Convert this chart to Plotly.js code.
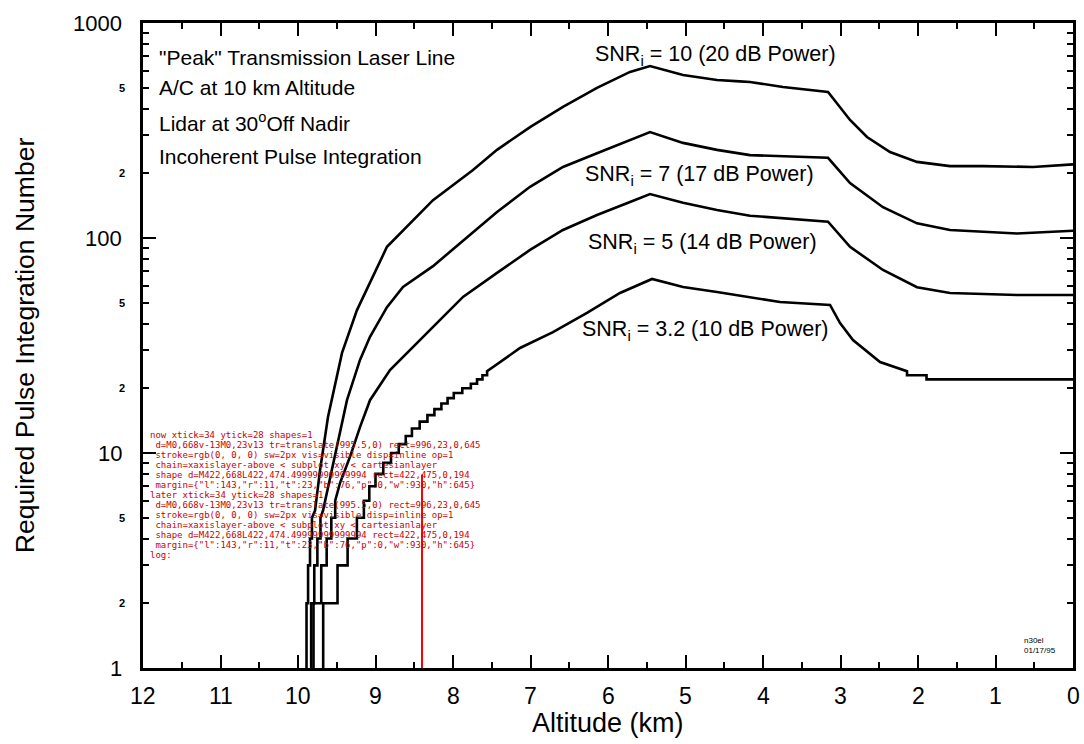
<!DOCTYPE html>
<html>
<head>
<meta charset="utf-8">
<script>
  // collect any console output / errors so they can be shown on the page
  window.__log = [];
  ['log', 'warn', 'error', 'trace', 'info'].forEach(k => {
    const orig = console[k];
    console[k] = function () { window.__log.push(k + ': ' + Array.from(arguments).map(String).join(' ').slice(0, 140)); if (orig) orig.apply(console, arguments); };
  });
  window.addEventListener('error', e => window.__log.push('onerror: ' + e.message));
  window.addEventListener('unhandledrejection', e => window.__log.push('rejection: ' + (e.reason && e.reason.message || e.reason)));
</script>
<script src="https://cdn.plot.ly/plotly-3.0.1.min.js"></script>
<style>
  html, body { margin: 0; padding: 0; background: #fff; }
  #chart { width: 1084px; height: 744px; }
  #dbg { position: absolute; left: 150px; top: 430px; font: 9px monospace; white-space: pre; color: #c00; }
</style>
</head>
<body>
<div id="chart"></div>
<div id="dbg"></div>
<script>
const alt10 = [9.89, 9.89, 9.87, 9.87, 9.845, 9.845, 9.82, 9.82, 9.78, 9.716, 9.613, 9.432, 9.239, 8.852,
  8.258, 7.742, 7.432, 7.006, 6.581, 6.142, 5.716, 5.458, 5.032, 4.594, 4.30, 4.168, 3.742, 3.161,
  2.877, 2.658, 2.361, 2.013, 1.587, 1.161, 0.516, 0.039, 0];
const snr10 = [1, 2, 2, 3, 3, 4, 4, 5, 5.4, 8.3, 14.7, 29.2, 46.2, 91,
  150, 207, 257, 328, 407, 499, 592, 631, 573, 543, 535, 532, 504, 478,
  354, 295, 251, 226, 216, 216, 214, 219, 220];

const alt7 = [9.83, 9.83, 9.79, 9.79, 9.75, 9.75, 9.71, 9.71, 9.677, 9.587, 9.484, 9.368, 9.2, 9.071,
  8.852, 8.645, 8.258, 7.83, 7.432, 7.006, 6.581, 6.142, 5.716, 5.458, 5.032, 4.594, 4.168, 3.161,
  2.877, 2.452, 2.013, 1.587, 0.723, 0.039, 0];
const snr7 = [1, 2, 2, 3, 3, 4, 4, 5, 5.4, 7.7, 11.5, 17.6, 27.1, 34.7,
  47.7, 59.2, 74, 100, 132, 173, 214, 248, 286, 311, 277, 257, 243, 236,
  180, 139, 117, 109, 105, 108, 108];

const alt5 = [9.80, 9.80, 9.70, 9.70, 9.63, 9.63, 9.57, 9.57, 9.52, 9.52, 9.458, 9.329, 9.2, 9.071,
  8.813, 8.516, 8.206, 7.871, 7.432, 7.006, 6.581, 6.142, 5.716, 5.458, 5.032, 4.594, 4.168, 3.161,
  2.877, 2.452, 2.013, 1.587, 0.723, 0.039, 0];
const snr5 = [1, 2, 2, 3, 3, 4, 4, 5, 5, 6, 7.25, 9.6, 13.2, 17.6,
  24.3, 31.1, 40.2, 53.2, 68.8, 88, 109, 128, 147, 160, 146, 135, 127, 119,
  91, 71, 59, 55.5, 54.3, 54.3, 54.3];

const stepAlt32 = [9.675, 9.49, 9.36, 9.24, 9.15, 9.08, 9.00, 8.90, 8.80, 8.70, 8.61, 8.53,
  8.43, 8.33, 8.24, 8.15, 8.07, 7.99, 7.88, 7.77, 7.69, 7.62, 7.56];
const stepVal32 = [2, 3, 4, 5, 6, 7, 8, 9, 10, 11, 12, 13, 14, 15, 16, 17, 18, 19, 20, 21, 22, 23, 24];
const altHi32 = [7.135, 6.71, 6.271, 5.845, 5.432, 5.032, 4.594, 4.168, 3.781, 3.135,
  3.006, 2.839, 2.49, 2.142, 2.142, 1.89, 1.89, 0];
const snrHi32 = [30.8, 36.5, 44.8, 55.5, 64.5, 59.2, 56.1, 53.2, 50.4, 48.8,
  40.2, 33.5, 26.5, 24, 23, 23, 22, 22];

const xTickVals = [12, 11, 10, 9, 8, 7, 6, 5, 4, 3, 2, 1, 0];
const yTickVals = [1, 10, 100, 1000];
const yMinorLabels = [2, 5, 20, 50, 200, 500];

const alt32 = [stepAlt32[0]], snr32 = [1];
stepAlt32.forEach((a, i) => {
  if (i > 0) { alt32.push(a); snr32.push(stepVal32[i - 1]); }
  alt32.push(a); snr32.push(stepVal32[i]);
});
altHi32.forEach((a, i) => { alt32.push(a); snr32.push(snrHi32[i]); });

const FONT = 'Liberation Sans, Arial, Helvetica, sans-serif';
const mk = (x, y) => ({ x, y, type: 'scatter', mode: 'lines', line: { color: '#000', width: 2.6 },
  hoverinfo: 'skip', showlegend: false });
const traces = [mk(alt10, snr10), mk(alt7, snr7), mk(alt5, snr5), mk(alt32, snr32)];

const X_RANGE = [12, 0], Y_DECADES = [0, 3];
const L = 143, R = 1073, T = 23, B = 668;
const W = R - L, H = B - T;
const px = x => (x - L) / W;
const py = y => (B - y) / H;
const fx = v => (v - X_RANGE[0]) / (X_RANGE[1] - X_RANGE[0]);
const fy = v => (Math.log10(v) - Y_DECADES[0]) / (Y_DECADES[1] - Y_DECADES[0]);

const ann = [];
const txt = (text, size, opts) => ann.push(Object.assign({
  text, xref: 'paper', yref: 'paper', xanchor: 'left', yanchor: 'middle', showarrow: false,
  font: { family: FONT, size, color: '#000' }
}, opts));

txt('"Peak" Transmission Laser Line', 21, { x: px(157), y: py(57) });
txt('A/C at 10 km Altitude', 21, { x: px(157), y: py(88) });
txt('Lidar at 30<sup>o</sup>Off Nadir', 21, { x: px(157), y: py(122) });
txt('Incoherent Pulse Integration', 21, { x: px(157), y: py(157) });
txt('SNR<sub>i</sub> = 10 (20 dB Power)', 21.5, { x: px(715), y: py(55), xanchor: 'center' });
txt('SNR<sub>i</sub> = 7 (17 dB Power)', 21.5, { x: px(699), y: py(175), xanchor: 'center' });
txt('SNR<sub>i</sub> = 5 (14 dB Power)', 21.5, { x: px(702), y: py(243), xanchor: 'center' });
txt('SNR<sub>i</sub> = 3.2 (10 dB Power)', 21.5, { x: px(705), y: py(330), xanchor: 'center' });
txt('n30el<br>01/17/95', 8, { x: px(1022), y: py(645), align: 'left' });
xTickVals.forEach(v => txt(String(v), 23, { x: fx(v), y: py(696), xanchor: 'center' }));
yTickVals.forEach(v => txt(String(v), 22, { x: px(124), y: fy(v), xanchor: 'right' }));
yMinorLabels.forEach(v => txt('<b>' + String(v).charAt(0) + '</b>', 11, { x: px(127), y: fy(v), xanchor: 'right' }));
txt('Altitude (km)', 27, { x: 0.5, y: py(723), xanchor: 'center' });

const layout = {
  width: 1084, height: 744,
  margin: { l: L, r: 1084 - R, t: T, b: 744 - B, autoexpand: false },
  paper_bgcolor: '#fff', plot_bgcolor: '#fff',
  font: { family: FONT, color: '#000' },
  xaxis: {
    range: X_RANGE, tickmode: 'array', tickvals: xTickVals, showticklabels: false,
    ticks: 'inside', ticklen: 13, tickwidth: 2, tickcolor: '#000',
    minor: { dtick: 0.5, ticks: 'inside', ticklen: 6, tickwidth: 2, tickcolor: '#000' },
    showline: true, linewidth: 3, linecolor: '#000', mirror: 'ticks',
    showgrid: false, zeroline: false
  },
  yaxis: {
    type: 'log', range: Y_DECADES, tickmode: 'array', tickvals: yTickVals, showticklabels: false,
    ticks: 'inside', ticklen: 13, tickwidth: 2, tickcolor: '#000',
    minor: { dtick: 'D1', ticks: 'inside', ticklen: 6, tickwidth: 2, tickcolor: '#000' },
    showline: true, linewidth: 3, linecolor: '#000', mirror: 'ticks',
    showgrid: false, zeroline: false,
    title: { text: 'Required Pulse Integration Number', font: { family: FONT, size: 26.5, color: '#000' }, standoff: 98 }
  },
  shapes: [{ type: 'line', xref: 'paper', yref: 'paper', x0: 0.3, x1: 0.3, y0: 0, y1: 0.3, line: { color: '#f00', width: 2 } }],
  annotations: ann
};

function report(tag) {
  const q = s => document.querySelectorAll(s);
  const xt = q('path.xtick'), yt = q('path.ytick'), sh = q('.shapelayer path');
  const out = [tag + ' xtick=' + xt.length + ' ytick=' + yt.length + ' shapes=' + sh.length];
  if (xt.length) {
    const p = xt[xt.length - 1];
    const r = p.getBoundingClientRect();
    const cs = getComputedStyle(p);
    out.push(' d=' + p.getAttribute('d') + ' tr=' + p.getAttribute('transform') + ' rect=' + [r.x, r.y, r.width, r.height].map(Math.round));
    out.push(' stroke=' + cs.stroke + ' sw=' + cs.strokeWidth + ' vis=' + cs.visibility + ' disp=' + cs.display + ' op=' + cs.opacity);
    let g = p.parentNode, chain = [];
    while (g && g.tagName && g.tagName !== 'svg') { chain.push((g.getAttribute('class') || g.tagName) + (g.getAttribute('transform') ? '[' + g.getAttribute('transform') + ']' : '') + (g.style.display ? '{' + g.style.display + '}' : '')); g = g.parentNode; }
    out.push(' chain=' + chain.join(' < ').slice(0, 200));
  }
  if (sh.length) { const r = sh[0].getBoundingClientRect(); out.push(' shape d=' + sh[0].getAttribute('d') + ' rect=' + [r.x, r.y, r.width, r.height].map(Math.round)); }
  const fl = document.getElementById('chart')._fullLayout;
  if (fl) out.push(' margin=' + JSON.stringify(fl._size));
  return out.join('\n');
}
const dbg = document.getElementById('dbg');
let first = '';
Plotly.newPlot('chart', traces, layout, { displayModeBar: false })
  .then(() => { first = report('now'); dbg.textContent = first + '\nlog:\n' + window.__log.slice(0, 8).join('\n'); })
  .catch(e => { dbg.textContent = 'newPlot error: ' + e.message + '\n' + (e.stack || '').slice(0, 300); });
setTimeout(() => { dbg.textContent = first + '\n' + report('later') + '\nlog:\n' + window.__log.slice(0, 8).join('\n'); }, 800);
</script>
</body>
</html>
